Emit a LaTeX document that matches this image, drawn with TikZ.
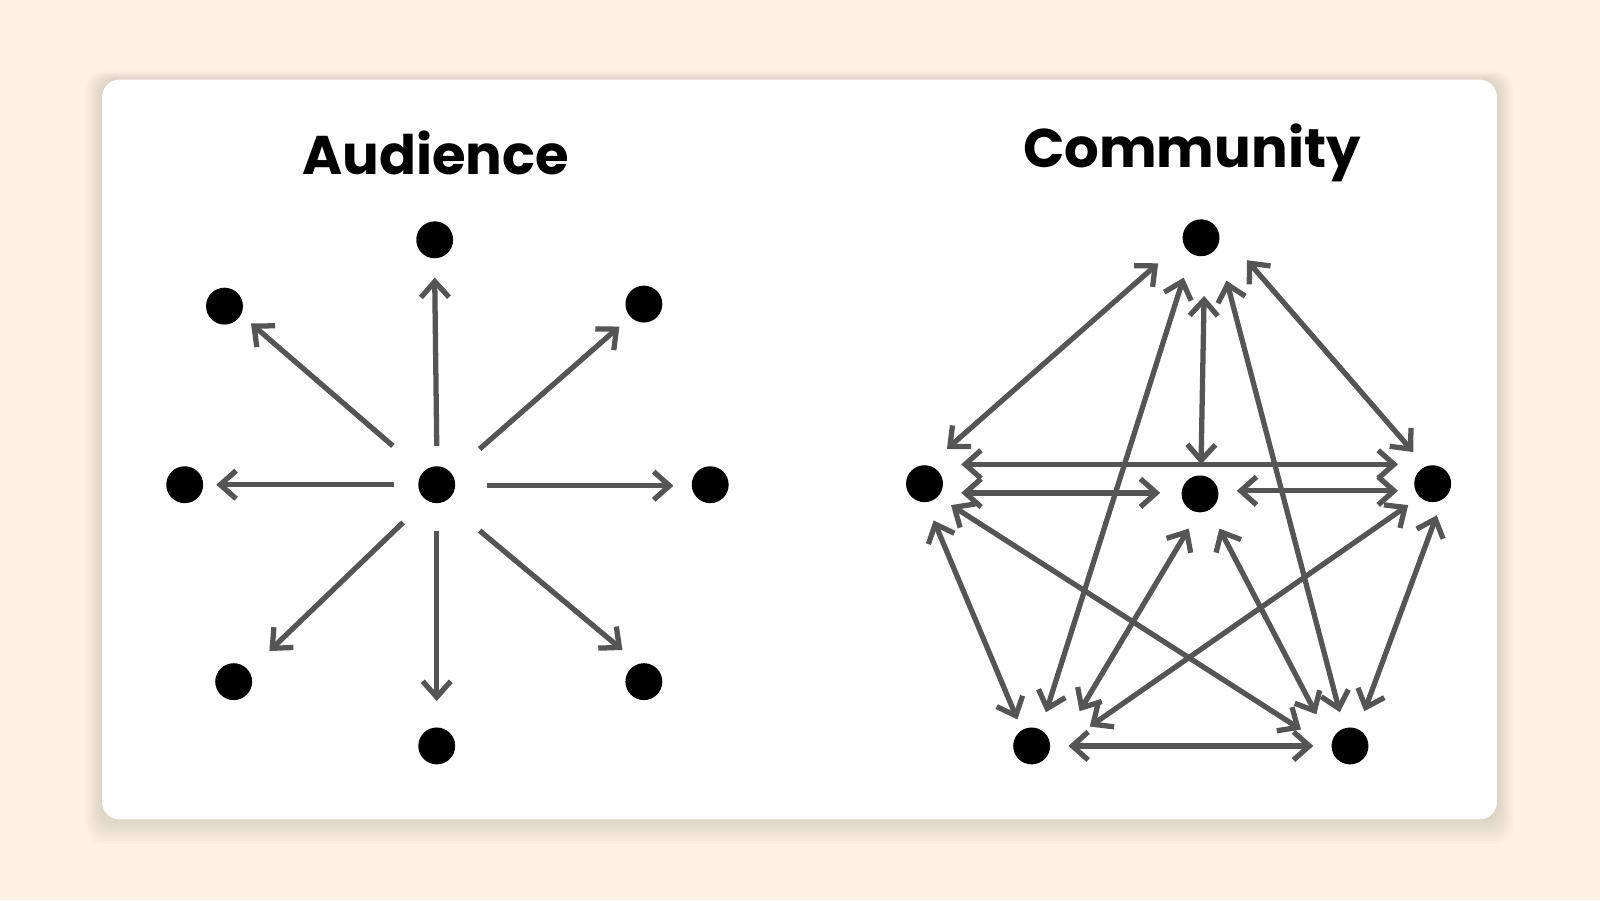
\documentclass[tikz,border=0pt]{standalone}
\usepackage{fontspec}
\setmainfont{Poppins}
\usetikzlibrary{arrows.meta}
\definecolor{bg}{HTML}{FDF2E3}
\definecolor{ln}{HTML}{555555}
\newcommand{\ar}[5]{\draw[arr] ([shift={#2}]#1.center) -- ([shift={#4}]#3.center);}
\newcommand{\dar}[4]{\draw[darr] ([shift={#2}]#1.center) -- ([shift={#4}]#3.center);}
\begin{document}
\begin{tikzpicture}[x=0.010204cm,y=-0.010204cm,
  dot/.style={circle,fill=black,inner sep=0pt,minimum size=10.5pt},
  arr/.style={draw=ln,line width=1.5pt,-{Straight Barb[length=4.5pt,width=8pt,line width=1.5pt]}},
  darr/.style={draw=ln,line width=1.5pt,{Straight Barb[length=4.5pt,width=8pt,line width=1.5pt]}-{Straight Barb[length=4.5pt,width=8pt,line width=1.5pt]}},
  ttl/.style={font=\fontsize{15.5}{19}\selectfont\bfseries}]
\fill[bg] (0,0) rectangle (1568,882);
\useasboundingbox (0,0) rectangle (1568,882);
\foreach \i in {1,...,8}{
  \fill[black!30!bg,opacity=0.05,rounded corners=5pt] (100-2*\i,78-\i) rectangle (1467+2*\i,803+3*\i);}
\fill[white,rounded corners=5pt] (100,78) rectangle (1467,803);
\node[ttl] (t1) at (427,150) {Audience};
\node[ttl] (t2) at (1168,150) {Community};
% Audience
\node[dot] (c) at (428,475) {};
\node[dot] (a) at (426,235) {};
\node[dot] (b) at (220,300) {};
\node[dot] (d) at (631,298) {};
\node[dot] (e) at (181,475) {};
\node[dot] (f) at (696,475) {};
\node[dot] (g) at (229,668) {};
\node[dot] (h) at (631,668) {};
\node[dot] (k) at (428,731) {};
\ar{c}{(0,-38)}{a}{(0,37)}{}
\ar{c}{(-43,-38)}{b}{(26,17)}{}
\ar{c}{(42,-35)}{d}{(-24,22)}{}
\ar{c}{(-42,0)}{e}{(31,0)}{}
\ar{c}{(49,1)}{f}{(-36,1)}{}
\ar{c}{(-33,37)}{g}{(35,-30)}{}
\ar{c}{(42,45)}{h}{(-21,-31)}{}
\ar{c}{(0,45)}{k}{(0,-44)}{}
% Community
\node[dot] (T) at (1177,233) {};
\node[dot] (L) at (906,474) {};
\node[dot] (M) at (1176,484) {};
\node[dot] (R) at (1404,474) {};
\node[dot] (BL) at (1011,731) {};
\node[dot] (BR) at (1323,731) {};
\dar{T}{(-42,25)}{L}{(22,-34)}
\dar{T}{(-17,39)}{BL}{(14,-33)}
\dar{T}{(3,57)}{M}{(1,-29)}
\dar{T}{(25,42)}{BR}{(-10,-33)}
\dar{T}{(45,22)}{R}{(-19,-31)}
\dar{L}{(36,-19)}{R}{(-34,-19)}
\dar{L}{(36,9)}{M}{(-39,-1)}
\dar{M}{(36,-3)}{R}{(-34,7)}
\dar{L}{(9,36)}{BL}{(-14,-26)}
\dar{L}{(26,21)}{BR}{(-48,-16)}
\dar{M}{(-11,34)}{BL}{(47,-34)}
\dar{M}{(19,34)}{BR}{(-33,-31)}
\dar{R}{(-24,21)}{BL}{(57,-19)}
\dar{R}{(4,31)}{BR}{(14,-34)}
\dar{BL}{(36,0)}{BR}{(-36,0)}
\end{tikzpicture}
\end{document}
